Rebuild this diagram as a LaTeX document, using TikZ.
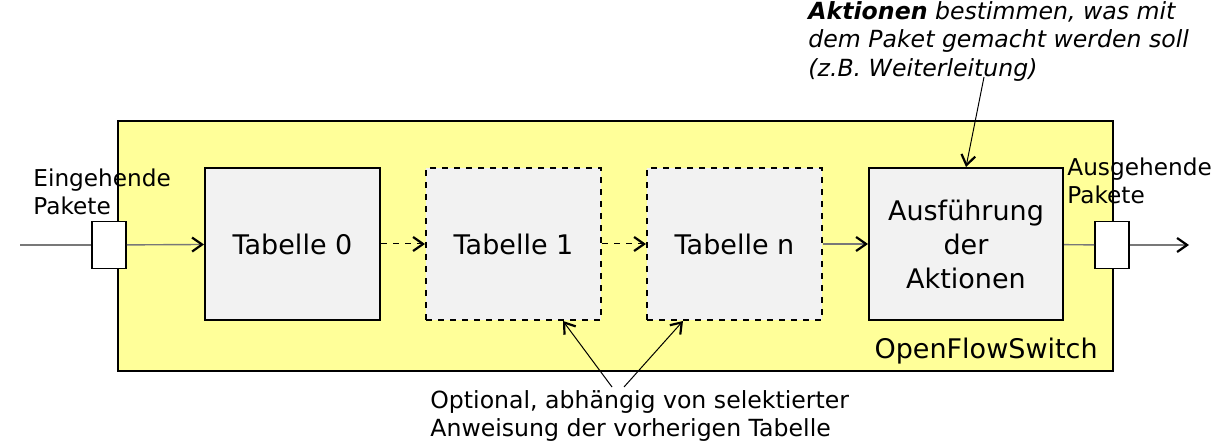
\documentclass[tikz,border=0pt]{standalone}
\usepackage{fontspec}
\setmainfont{DejaVu Sans}
\usetikzlibrary{arrows.meta,positioning,calc}
\definecolor{switchyellow}{RGB}{255,255,153}
\definecolor{tablegray}{RGB}{242,242,242}
\definecolor{wiregray}{RGB}{120,120,120}

\begin{document}
\begin{tikzpicture}[
    x=0.5pt, y=-0.5pt,
    table/.style={rectangle, draw, line width=1pt, fill=tablegray, minimum width=87.5pt, minimum height=76pt, font=\fontsize{13.5}{17}\selectfont, align=center},
    optional/.style={table, dashed},
    port/.style={rectangle, draw, line width=0.8pt, fill=white, minimum width=17pt, minimum height=23.5pt},
    label/.style={inner sep=0pt, align=left, font=\fontsize{11.6}{14}\selectfont},
    arrow/.style={-{Straight Barb[length=5pt,width=7pt,line width=1.1pt,color=black]}, line width=0.5pt},
    wire/.style={arrow, wiregray, line width=0.7pt}
]
\useasboundingbox (0,0) rectangle (1214,442);

% Switch
\node[rectangle, draw, line width=1pt, fill=switchyellow, minimum width=497.5pt, minimum height=125pt, anchor=north west] (switch) at (117,120) {};
\node[label, anchor=south east] (swname) at (1098,365) {\fontsize{13.5}{15}\selectfont OpenFlowSwitch};

% Tables
\node[table] (tab0) at (292.5,244) {Tabelle 0};
\node[optional] (tab1) at (513.5,244) {Tabelle 1};
\node[optional] (tabn) at (734.5,244) {Tabelle n};
\node[table, minimum width=97pt] (aus) at (966,244) {Ausführung\\der\\Aktionen};

% Ports
\node[port] (inport) at (109,245) {};
\node[port] (outport) at (1112,245) {};
\coordinate (src) at (20,245);
\coordinate (dst) at (1189,245);

% Labels
\node[label, anchor=north west] (inlabel) at (33,168) {Eingehende\\Pakete};
\node[label, anchor=north west] (outlabel) at (1067,157) {Ausgehende\\Pakete};
\node[label, anchor=north west, font=\fontsize{11.8}{14.3}\selectfont\itshape] (aktnote) at (808,1) {\textbf{Aktionen} bestimmen, was mit\\dem Paket gemacht werden soll\\(z.B. Weiterleitung)};
\node[label, anchor=north west, font=\fontsize{11.8}{14.3}\selectfont] (optnote) at (430,390) {Optional, abhängig von selektierter\\Anweisung der vorherigen Tabelle};
\coordinate (aktsrc) at (984,77);
\coordinate (optsrc1) at (612,387);
\coordinate (optsrc2) at (624,387);

% Arrows
\draw[wiregray, line width=0.7pt] (src) -- (inport);
\draw[wire] (inport) -- (tab0);
\draw[arrow, dashed] (tab0) -- (tab1);
\draw[arrow, dashed] (tab1) -- (tabn);
\draw[wire] (tabn) -- (aus);
\draw[wiregray, line width=0.7pt] (aus) -- (outport);
\draw[wire] (outport) -- (dst);

\draw[arrow] (aktsrc) -- (aus.north);
\draw[arrow] (optsrc1) -- ([xshift=24.75pt]tab1.south);
\draw[arrow] (optsrc2) -- ([xshift=-25.75pt]tabn.south);

\end{tikzpicture}
\end{document}
